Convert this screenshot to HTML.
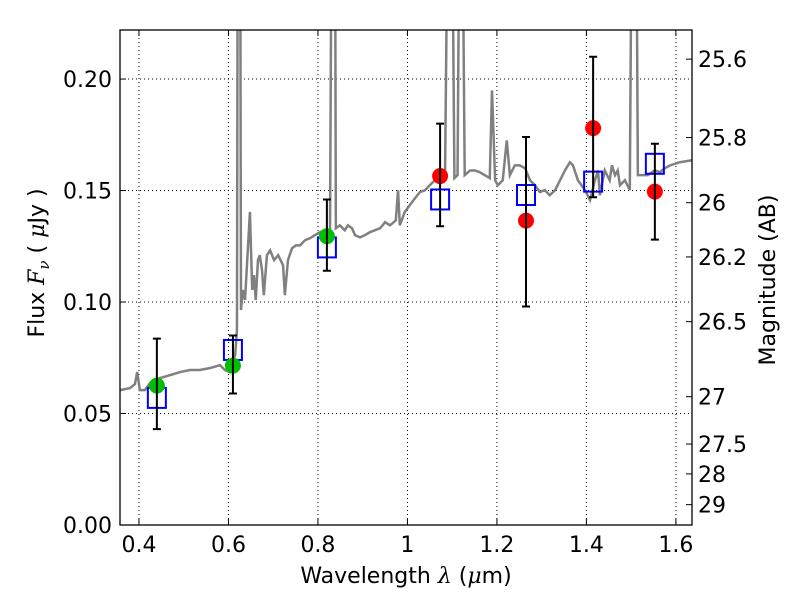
<!DOCTYPE html>
<html><head><meta charset="utf-8"><style>
body{margin:0;background:#fff}
svg text{font-family:"DejaVu Sans","Liberation Sans",sans-serif;font-size:22px;fill:#000}
</style></head><body>
<svg id="chart" width="800" height="600" xmlns="http://www.w3.org/2000/svg"></svg>
<script>
const specLam=[0.358,0.380,0.391,0.396,0.402,0.413,0.425,0.436,0.447,0.469,0.492,0.514,0.536,0.559,0.581,0.592,0.603,0.610,0.615,0.619,0.621,0.626,0.628,0.632,0.637,0.648,0.653,0.657,0.661,0.666,0.670,0.675,0.679,0.686,0.693,0.702,0.711,0.722,0.726,0.733,0.742,0.751,0.760,0.771,0.782,0.793,0.804,0.816,0.827,0.831,0.838,0.840,0.849,0.860,0.867,0.876,0.883,0.894,0.905,0.916,0.939,0.950,0.961,0.974,0.979,0.983,0.994,1.006,1.017,1.028,1.039,1.050,1.061,1.073,1.084,1.091,1.099,1.105,1.112,1.117,1.122,1.128,1.140,1.151,1.162,1.173,1.184,1.189,1.196,1.202,1.213,1.222,1.229,1.240,1.251,1.263,1.274,1.285,1.296,1.307,1.318,1.330,1.341,1.352,1.363,1.370,1.381,1.397,1.408,1.419,1.426,1.430,1.441,1.452,1.457,1.464,1.470,1.475,1.486,1.497,1.502,1.511,1.515,1.524,1.537,1.553,1.564,1.575,1.587,1.609,1.636];
const specFlux=[0.0605,0.0614,0.0632,0.0686,0.0605,0.0605,0.0637,0.065,0.0659,0.0672,0.0686,0.0695,0.0695,0.0704,0.0717,0.0695,0.0686,0.074,0.0762,0.0874,0.30,0.30,0.0964,0.1054,0.1009,0.1404,0.1054,0.1121,0.1009,0.1188,0.121,0.1143,0.1031,0.121,0.1232,0.1188,0.121,0.1165,0.1031,0.1188,0.1241,0.1254,0.1254,0.1277,0.1286,0.13,0.1313,0.1322,0.1322,0.30,0.30,0.1331,0.1344,0.1322,0.1344,0.1331,0.13,0.129,0.13,0.1313,0.1331,0.1358,0.1344,0.1366,0.1501,0.1344,0.1404,0.1436,0.1466,0.1493,0.1501,0.1524,0.1546,0.1533,0.1556,0.30,0.30,0.1556,0.1569,0.30,0.30,0.1569,0.159,0.159,0.1582,0.1569,0.1556,0.1949,0.1546,0.1524,0.1546,0.1725,0.1569,0.1613,0.1613,0.16,0.1546,0.1524,0.1493,0.1502,0.1479,0.1502,0.1546,0.159,0.1627,0.1613,0.1546,0.1502,0.1457,0.1546,0.159,0.1479,0.159,0.1546,0.1613,0.1569,0.159,0.1524,0.1546,0.1502,0.30,0.30,0.1569,0.1569,0.1569,0.1591,0.1582,0.16,0.1613,0.1627,0.1636];
const circLam=[0.440,0.610,0.820,1.073,1.265,1.415,1.553];
const circFlux=[0.0625,0.0715,0.1295,0.1565,0.1365,0.178,0.1495];
const circColor=["#00bf00","#00bf00","#00bf00","#ff0000","#ff0000","#ff0000","#ff0000"];
const errCenter=[0.0633,0.072,0.130,0.157,0.136,0.1785,0.1495];
const errSize=[0.0203,0.013,0.016,0.023,0.038,0.0315,0.0215];
const sqFlux=[0.057,0.0785,0.1245,0.146,0.148,0.154,0.162];
const xTicks=[0.4,0.6,0.8,1.0,1.2,1.4,1.6];
const xTickLabels=["0.4","0.6","0.8","1","1.2","1.4","1.6"];
const yTicks=[0,0.05,0.10,0.15,0.20];
const yTickLabels=["0.00","0.05","0.10","0.15","0.20"];
const magTicks=[25.6,25.8,26,26.2,26.5,27,27.5,28,29];
const magTickLabels=["25.6","25.8","26","26.2","26.5","27","27.5","28","29"];

const L=120,R=692,T=30,B=525,x0=0.3576,x1=1.636,y0=0,y1=0.222;
const X=v=>L+(v-x0)/(x1-x0)*(R-L);
const Y=v=>B-(v-y0)/(y1-y0)*(B-T);
const svg=document.getElementById('chart');
const NS="http://www.w3.org/2000/svg";
function mk(tag,attrs,parent){const e=document.createElementNS(NS,tag);for(const k in attrs)e.setAttribute(k,attrs[k]);(parent||svg).appendChild(e);return e;}
const clip=mk('clipPath',{id:'pc'});mk('rect',{x:L,y:T,width:R-L,height:B-T},clip);
xTicks.forEach((t,i)=>{
 const g=mk('line',{x1:X(t),x2:X(t),y1:T,y2:B,stroke:'#000','stroke-width':1,'stroke-dasharray':'1,3'});
 
 mk('line',{x1:X(t),x2:X(t),y1:B,y2:B-6,stroke:'#000'});mk('line',{x1:X(t),x2:X(t),y1:T,y2:T+6,stroke:'#000'});
 const tx=mk('text',{x:X(t),y:B+27,'text-anchor':'middle'});tx.textContent=xTickLabels[i];
 
});
yTicks.forEach((t,i)=>{
 const g=mk('line',{x1:L,x2:R,y1:Y(t),y2:Y(t),stroke:'#000','stroke-width':1,'stroke-dasharray':'1,3'});
 
 mk('line',{x1:L,x2:L+6,y1:Y(t),y2:Y(t),stroke:'#000'});
 const tx=mk('text',{x:L-8,y:Y(t)+8,'text-anchor':'end'});tx.textContent=yTickLabels[i];
 
});
magTicks.forEach((m,i)=>{
 const f=Math.pow(10,(23.9-m)/2.5);const y=Y(f);
 mk('line',{x1:R-6,x2:R,y1:y,y2:y,stroke:'#000'});
 const tx=mk('text',{x:R+6,y:y+8});tx.textContent=magTickLabels[i];
 
});
const g=mk('g',{'clip-path':'url(#pc)'});
const sp=mk('polyline',{points:specLam.map((l,i)=>X(l)+','+Y(specFlux[i])).join(' '),fill:'none',stroke:'#808080','stroke-width':2.5},g);

circLam.forEach((l,i)=>{
 const s=mk('rect',{x:X(l)-9,y:Y(sqFlux[i])-10,width:18,height:20,fill:'none',stroke:'#0000ff','stroke-width':2},g);
 
});
circLam.forEach((l,i)=>{
 const c=mk('circle',{cx:X(l),cy:Y(circFlux[i]),r:8,fill:circColor[i]},g);
 
});
circLam.forEach((l,i)=>{
 const x=X(l),yt=Y(errCenter[i]+errSize[i]),yb=Y(errCenter[i]-errSize[i]);
 const e=mk('path',{d:`M${x},${yt}V${yb}M${x-4},${yt}H${x+4}M${x-4},${yb}H${x+4}`,stroke:'#000','stroke-width':2,fill:'none'},g);
 
});
const fr=mk('rect',{x:L,y:T,width:R-L,height:B-T,fill:'none',stroke:'#000','stroke-width':1.3});

const xl=mk('text',{x:406,y:583,'text-anchor':'middle'});xl.innerHTML='Wavelength  <tspan font-style="italic" font-family="DejaVu Serif">λ</tspan> (<tspan font-style="italic" font-family="DejaVu Serif">μ</tspan>m)';

const yl=mk('text',{x:44,y:263,'text-anchor':'middle',transform:'rotate(-90 44 263)'});yl.innerHTML='Flux  <tspan font-style="italic" font-family="DejaVu Serif">F</tspan><tspan font-style="italic" font-family="DejaVu Serif" font-size="15" dy="5">ν</tspan><tspan dy="-5">  (  </tspan><tspan font-style="italic" font-family="DejaVu Serif">μ</tspan>Jy )';

const rl=mk('text',{x:775,y:280,'text-anchor':'middle',transform:'rotate(-90 775 280)'});rl.textContent='Magnitude (AB)';

</script>
</body></html>
